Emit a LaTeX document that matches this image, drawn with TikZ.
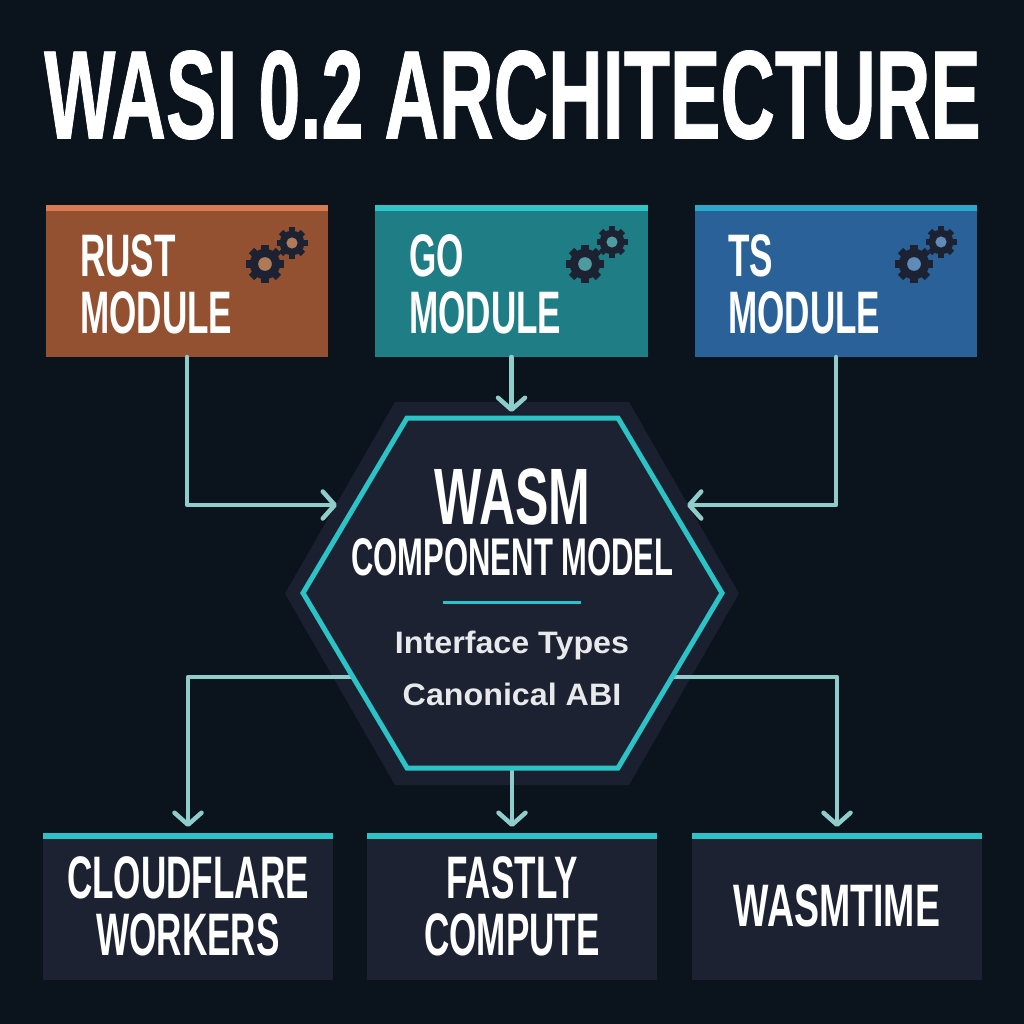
\documentclass[tikz,border=0pt]{standalone}
\usepackage{fontspec}
\usetikzlibrary{arrows.meta}
\setmainfont[FakeStretch=1.04]{Liberation Sans}
\newfontfamily\capsfont[FakeStretch=.585]{Liberation Sans}
\newfontfamily\widecapsfont[FakeStretch=.625]{Liberation Sans}
\newfontfamily\titlefont[FakeStretch=.6,FakeBold=.6]{Liberation Sans}

\definecolor{pagebg}{HTML}{0B131C}
\definecolor{panel}{HTML}{1D2233}
\definecolor{halo}{HTML}{1A2030}
\definecolor{tealline}{HTML}{2CC3C6}
\definecolor{wire}{HTML}{8FCDCC}
\definecolor{rustbox}{HTML}{935132}
\definecolor{ruststripe}{HTML}{D97B52}
\definecolor{rusthole}{HTML}{B07A58}
\definecolor{gobox}{HTML}{1F7D85}
\definecolor{gostripe}{HTML}{2FC5C6}
\definecolor{gohole}{HTML}{4E9BA0}
\definecolor{tsbox}{HTML}{2A6199}
\definecolor{tsstripe}{HTML}{2BA9CB}
\definecolor{tshole}{HTML}{5E8BB8}

\newcommand{\gearicon}[4]{%
    \foreach \a in {0,45,90,135}
        \fill[panel, rotate around={\a:(#1,#2)}] (#1-.2*#3,#2-#3) rectangle (#1+.2*#3,#2+#3);
    \fill[panel] (#1,#2) circle ({.8*#3});
    \fill[#4] (#1,#2) circle ({.36*#3});
}
% hexagon inside the bounding rectangle of a node
\newcommand{\hexpath}[2]{([xshift=#2]#1.north west) -- ([xshift=-#2]#1.north east) -- (#1.east) -- ([xshift=-#2]#1.south east) -- ([xshift=#2]#1.south west) -- (#1.west) -- cycle}

\tikzset{
    stripebox/.style 2 args={fill=#1, inner sep=0pt, outer sep=0pt, minimum height=152pt,
        path picture={\fill[#2] (path picture bounding box.north west) rectangle ([yshift=-6pt]path picture bounding box.north east);}},
    hostbox/.style={fill=panel, inner sep=0pt, outer sep=0pt, minimum width=290pt, minimum height=147pt,
        path picture={\fill[tealline] (path picture bounding box.north west) rectangle ([yshift=-5.5pt]path picture bounding box.north east);}},
    hexbox/.style={inner sep=0pt, outer sep=0pt},
    caps/.style={text=white, inner sep=0pt, align=center, font=\capsfont\bfseries\fontsize{60}{57}\selectfont},
    bigcaps/.style={caps, font=\widecapsfont\bfseries\fontsize{#1}{#1}\selectfont},
    hubtext/.style={text=white!90!panel, inner sep=0pt, font=\bfseries\fontsize{31}{31}\selectfont},
    wireline/.style={draw=wire, line width=4.5pt, line cap=round, line join=round, ->},
}

\begin{document}
\begin{tikzpicture}[x=1pt, y=-1pt, >={Straight Barb[length=12pt, width=27pt, round]}]
    \useasboundingbox (0,0) rectangle (1024,1024);
    \fill[pagebg] (0,0) rectangle (1024,1024);

    \node[caps, font=\titlefont\bfseries\fontsize{126}{126}\selectfont] (title) at (512.5,95) {WASI 0.2 ARCHITECTURE};

    % modules
    \node[stripebox={rustbox}{ruststripe}, minimum width=282pt] (rust) at (187,281) {};
    \node[stripebox={gobox}{gostripe}, minimum width=273pt] (go) at (511.5,281) {};
    \node[stripebox={tsbox}{tsstripe}, minimum width=282pt] (ts) at (836,281) {};

    \node[caps, align=left, anchor=west] (rustlabel) at (80,284) {RUST\\MODULE};
    \node[caps, align=left, anchor=west] (golabel) at (409,284) {GO\\MODULE};
    \node[caps, align=left, anchor=west] (tslabel) at (728,284) {TS\\MODULE};

    \gearicon{265}{264}{19}{rusthole}
    \gearicon{292}{243}{15.5}{rusthole}
    \gearicon{585}{264}{19}{gohole}
    \gearicon{612}{242}{15.5}{gohole}
    \gearicon{914}{264}{19}{tshole}
    \gearicon{941}{242}{15.5}{tshole}

    % hexagon
    \node[hexbox, minimum width=454pt, minimum height=383pt] (halo) at (512,593.5) {};
    \node[hexbox, minimum width=419pt, minimum height=350pt] (hub) at (512.5,593) {};
    \fill[halo] \hexpath{halo}{110pt};

    % hosts
    \node[hostbox] (cloud) at (188,906.5) {};
    \node[hostbox] (fastly) at (512,906.5) {};
    \node[hostbox] (wasmtime) at (837,906.5) {};

    \coordinate (hubinleft) at (337,505);
    \coordinate (hubinright) at (687,505);
    \coordinate (huboutleft) at (353,677);
    \coordinate (huboutright) at (672,677);

    % connectors
    \draw[wireline] (rust.south) |- (hubinleft);
    \draw[wireline] (ts.south) |- (hubinright);
    \draw[wireline, shorten >=6pt] (go.south) -- (hub.north -| go.south);
    \draw[wireline, shorten >=6pt] (huboutleft) -| (cloud.north);
    \draw[wireline, shorten >=6pt] (huboutright) -| (wasmtime.north);
    \draw[wireline, shorten >=6pt] (hub.south -| fastly.north) -- (fastly.north);

    \filldraw[draw=tealline, line width=5pt, fill=panel, line join=miter] \hexpath{hub}{104pt};

    \node[bigcaps=80] (wasm) at (512.5,497) {WASM};
    \node[caps, font=\capsfont\bfseries\fontsize{53}{53}\selectfont] (cmodel) at (512.5,557) {COMPONENT MODEL};
    \draw[tealline, line width=2.5pt] (443,602.5) -- (581,602.5);
    \node[hubtext] (iface) at (512,645) {Interface Types};
    \node[hubtext] (abi) at (512,694) {Canonical ABI};

    \node[caps] (cloudlabel) at (188,906) {CLOUDFLARE\\WORKERS};
    \node[caps] (fastlylabel) at (512,906) {FASTLY\\COMPUTE};
    \node[bigcaps=60] (wasmtimelabel) at (837,906) {WASMTIME};
\end{tikzpicture}
\end{document}
